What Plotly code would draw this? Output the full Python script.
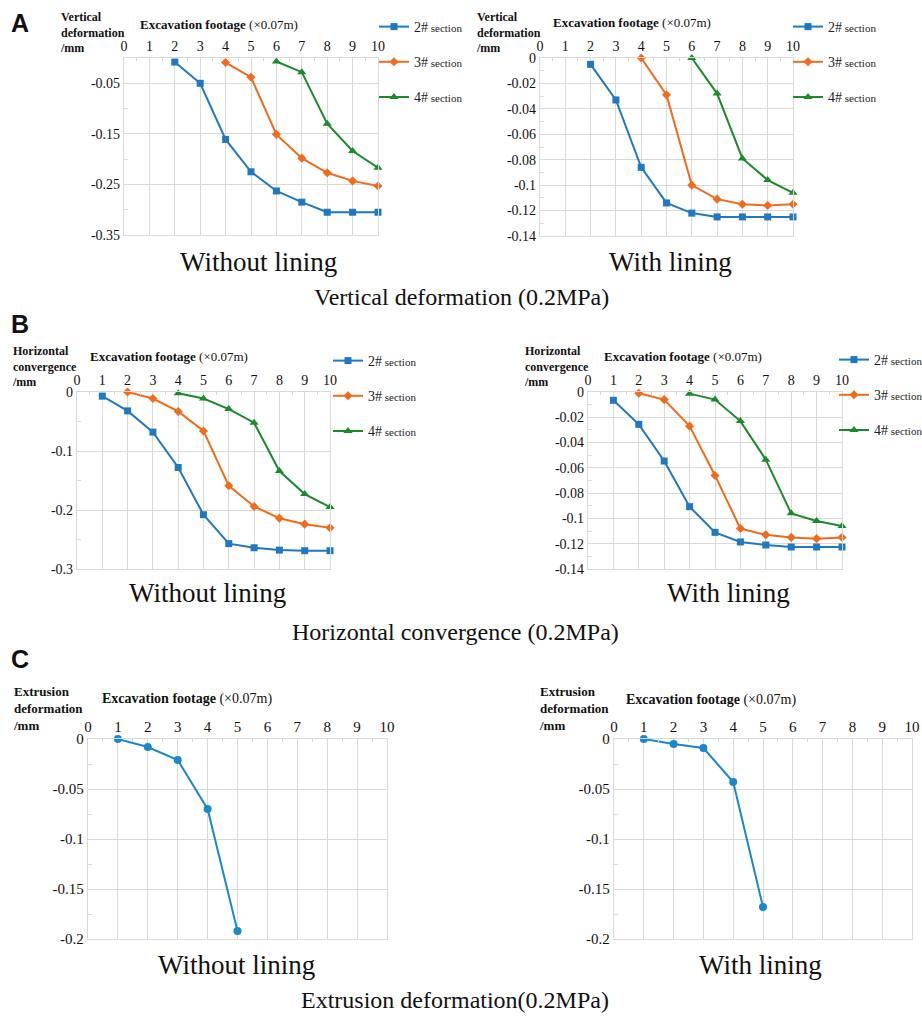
import plotly.graph_objects as go

W, H = 922, 1019

# ---- data ----
ticks_x = list(range(0, 11))

a_wo_x2 = [2, 3, 4, 5, 6, 7, 8, 9, 10]
a_wo_y2 = [-0.008, -0.05, -0.161, -0.225, -0.263, -0.285, -0.305, -0.305, -0.305]
a_wo_x3 = [4, 5, 6, 7, 8, 9, 10]
a_wo_y3 = [-0.009, -0.038, -0.151, -0.198, -0.227, -0.243, -0.253]
a_wo_x4 = [6, 7, 8, 9, 10]
a_wo_y4 = [-0.007, -0.028, -0.13, -0.184, -0.217]

a_w_x2 = [2, 3, 4, 5, 6, 7, 8, 9, 10]
a_w_y2 = [-0.005, -0.033, -0.086, -0.114, -0.122, -0.125, -0.125, -0.125, -0.125]
a_w_x3 = [4, 5, 6, 7, 8, 9, 10]
a_w_y3 = [0, -0.029, -0.1, -0.111, -0.115, -0.116, -0.115]
a_w_x4 = [6, 7, 8, 9, 10]
a_w_y4 = [0, -0.028, -0.079, -0.096, -0.106]

b_wo_x2 = [1, 2, 3, 4, 5, 6, 7, 8, 9, 10]
b_wo_y2 = [-0.007, -0.032, -0.068, -0.128, -0.208, -0.257, -0.264, -0.268, -0.269, -0.269]
b_wo_x3 = [2, 3, 4, 5, 6, 7, 8, 9, 10]
b_wo_y3 = [0, -0.011, -0.033, -0.066, -0.159, -0.194, -0.214, -0.224, -0.23]
b_wo_x4 = [4, 5, 6, 7, 8, 9, 10]
b_wo_y4 = [-0.002, -0.011, -0.029, -0.052, -0.134, -0.173, -0.195]

b_w_x2 = [1, 2, 3, 4, 5, 6, 7, 8, 9, 10]
b_w_y2 = [-0.0066, -0.0256, -0.0546, -0.0907, -0.111, -0.1186, -0.121, -0.1226, -0.1226, -0.1226]
b_w_x3 = [2, 3, 4, 5, 6, 7, 8, 9, 10]
b_w_y3 = [-0.001, -0.006, -0.027, -0.066, -0.108, -0.113, -0.115, -0.116, -0.115]
b_w_x4 = [4, 5, 6, 7, 8, 9, 10]
b_w_y4 = [-0.0013, -0.006, -0.023, -0.0535, -0.096, -0.102, -0.106]

c_x = [1, 2, 3, 4, 5]
c_wo_y = [0, -0.008, -0.021, -0.07, -0.192]
c_w_y = [0, -0.005, -0.009, -0.043, -0.168]

yticks_a_wo = [-0.05, -0.15, -0.25, -0.35]
yticks_fine = [0, -0.02, -0.04, -0.06, -0.08, -0.1, -0.12, -0.14]
yticks_b_wo = [0, -0.1, -0.2, -0.3]
yticks_c = [0, -0.05, -0.1, -0.15, -0.2]

BLUE = "#1f78c1"
ORANGE = "#f26a1b"
GREEN = "#1b8a2a"
C_BLUE = "#1a88cc"
GRID = "#d9d9d9"
SERIF = "Liberation Serif, Times New Roman, serif"


def fx(p):
    return p / W


def fy(p):
    return 1 - p / H


def lbl(v):
    return "0" if v == 0 else ("%g" % v)


fig = go.Figure()

# panel boxes in pixels: x0, x1, ytop, ybottom
panels = [
    dict(box=(124, 378, 58, 235), yr=[-0.35, 0], yt=yticks_a_wo, ym=[-0.1, -0.2, -0.3], fs=14),
    dict(box=(540, 793, 58, 236), yr=[-0.14, 0], yt=yticks_fine, ym=[-0.01, -0.03, -0.05, -0.07, -0.09, -0.11, -0.13], fs=14),
    dict(box=(77, 330, 392, 569), yr=[-0.3, 0], yt=yticks_b_wo, ym=[-0.05, -0.15, -0.25], fs=14),
    dict(box=(588, 842, 392, 569), yr=[-0.14, 0], yt=yticks_fine, ym=[-0.01, -0.03, -0.05, -0.07, -0.09, -0.11, -0.13], fs=14),
    dict(box=(88, 387, 739, 939), yr=[-0.2, 0], yt=yticks_c, ym=[-0.025, -0.075, -0.125, -0.175], fs=15),
    dict(box=(614, 912, 739, 939), yr=[-0.2, 0], yt=yticks_c, ym=[-0.025, -0.075, -0.125, -0.175], fs=15),
]

layout_axes = {}
for i, p in enumerate(panels):
    n = "" if i == 0 else str(i + 1)
    x0, x1, yt, yb = p["box"]
    layout_axes["xaxis" + n] = dict(
        domain=[fx(x0), fx(x1)], anchor="y" + n, side="top", range=[0, 10],
        tickvals=ticks_x, ticktext=[str(t) for t in ticks_x],
        showgrid=True, gridcolor=GRID, gridwidth=1.3, zeroline=False,
        showline=True, mirror=True, linecolor=GRID, linewidth=1.3, ticks="",
        tickfont=dict(family=SERIF, size=p["fs"], color="#111"),
        minor=dict(tickvals=[k + 0.5 for k in range(10)], ticks="inside", ticklen=3,
                   tickcolor=GRID, showgrid=False),
    )
    layout_axes["yaxis" + n] = dict(
        domain=[fy(yb), fy(yt)], anchor="x" + n, range=p["yr"],
        tickvals=p["yt"], ticktext=[lbl(v) for v in p["yt"]],
        showgrid=True, gridcolor=GRID, gridwidth=1.3, zeroline=False,
        showline=True, mirror=True, linecolor=GRID, linewidth=1.3, ticks="",
        tickfont=dict(family=SERIF, size=p["fs"], color="#111"),
        minor=dict(tickvals=p["ym"], ticks="inside", ticklen=4, tickcolor=GRID, showgrid=False),
    )


def sec(num):
    return num + "#<span style='font-size:11px'> section</span>"


series_sets = [
    ("", "legend", [(a_wo_x2, a_wo_y2), (a_wo_x3, a_wo_y3), (a_wo_x4, a_wo_y4)]),
    ("2", "legend2", [(a_w_x2, a_w_y2), (a_w_x3, a_w_y3), (a_w_x4, a_w_y4)]),
    ("3", "legend3", [(b_wo_x2, b_wo_y2), (b_wo_x3, b_wo_y3), (b_wo_x4, b_wo_y4)]),
    ("4", "legend4", [(b_w_x2, b_w_y2), (b_w_x3, b_w_y3), (b_w_x4, b_w_y4)]),
]
styles = [("2", BLUE, "square", 7), ("3", ORANGE, "diamond", 7), ("4", GREEN, "triangle-up", 8)]

for n, leg, sets in series_sets:
    for (xs, ys), (num, col, sym, ms) in zip(sets, styles):
        fig.add_trace(go.Scatter(
            x=xs, y=ys, xaxis="x" + n, yaxis="y" + n, mode="lines+markers",
            name=sec(num), legend=leg, legendgroup=leg + num,
            line=dict(color=col, width=2), marker=dict(symbol=sym, size=ms, color=col),
            cliponaxis=False,
        ))

for n, ys in [("5", c_wo_y), ("6", c_w_y)]:
    fig.add_trace(go.Scatter(
        x=c_x, y=ys, xaxis="x" + n, yaxis="y" + n, mode="lines+markers",
        line=dict(color=C_BLUE, width=2), marker=dict(symbol="circle", size=8, color=C_BLUE),
        showlegend=False, cliponaxis=False,
    ))


def legend_at(xp, yp):
    return dict(x=fx(xp), y=fy(yp), xanchor="left", yanchor="top",
                font=dict(family=SERIF, size=14, color="#222"),
                bgcolor="rgba(0,0,0,0)", tracegroupgap=14, itemwidth=30)


annotations = []


def ann(text, xp, yp, size, xanchor="left", yanchor="middle", family=SERIF, align="left"):
    annotations.append(dict(text=text, x=fx(xp), y=fy(yp), xref="paper", yref="paper",
                            xanchor=xanchor, yanchor=yanchor, showarrow=False, align=align,
                            font=dict(family=family, size=size, color="#111")))


# panel letters
for letter, yp in [("A", 23), ("B", 324), ("C", 659)]:
    ann("<b>%s</b>" % letter, 9, yp, 25, family="Liberation Sans, Arial, sans-serif")

# y-axis titles
ann("<b>Vertical<br>deformation<br>/mm</b>", 58, 8, 12, yanchor="top")
ann("<b>Vertical<br>deformation<br>/mm</b>", 474, 8, 12, yanchor="top")
ann("<b>Horizontal<br>convergence<br>/mm</b>", 10, 342, 12, yanchor="top")
ann("<b>Horizontal<br>convergence<br>/mm</b>", 522, 342, 12, yanchor="top")
ann("<b>Extrusion<br>deformation<br>/mm</b>", 11, 682, 13, yanchor="top")
ann("<b>Extrusion<br>deformation<br>/mm</b>", 537, 682, 13, yanchor="top")

# x-axis titles
xt = "<b>Excavation footage</b> (×0.07m)"
ann(xt, 138, 24, 13)
ann(xt, 551, 23, 13)
ann(xt, 88, 357, 13)
ann(xt, 602, 357, 13)
ann(xt, 100, 699, 14)
ann(xt, 624, 700, 14)

# subtitles
for txt, xp, yp, sz in [
    ("Without lining", 258, 262, 27), ("With lining", 670, 262, 27),
    ("Vertical deformation (0.2MPa)", 461, 297, 24),
    ("Without lining", 207, 593, 27), ("With lining", 728, 593, 27),
    ("Horizontal convergence (0.2MPa)", 455, 632, 24),
    ("Without lining", 236, 965, 27), ("With lining", 760, 965, 27),
    ("Extrusion deformation(0.2MPa)", 455, 1000, 24),
]:
    ann(txt, xp, yp, sz, xanchor="center")

fig.update_layout(
    width=W, height=H, margin=dict(l=0, r=0, t=0, b=0, autoexpand=False),
    paper_bgcolor="white", plot_bgcolor="white",
    legend=legend_at(374, 11),
    legend2=legend_at(788, 11),
    legend3=legend_at(328, 345),
    legend4=legend_at(834, 344),
    annotations=annotations,
    **layout_axes,
)

# drop the default 8px body margin so the figure sits in the window corner
fig.write_html("out.html", config={"displayModeBar": False},
               post_script="document.body.style.margin='0';")
